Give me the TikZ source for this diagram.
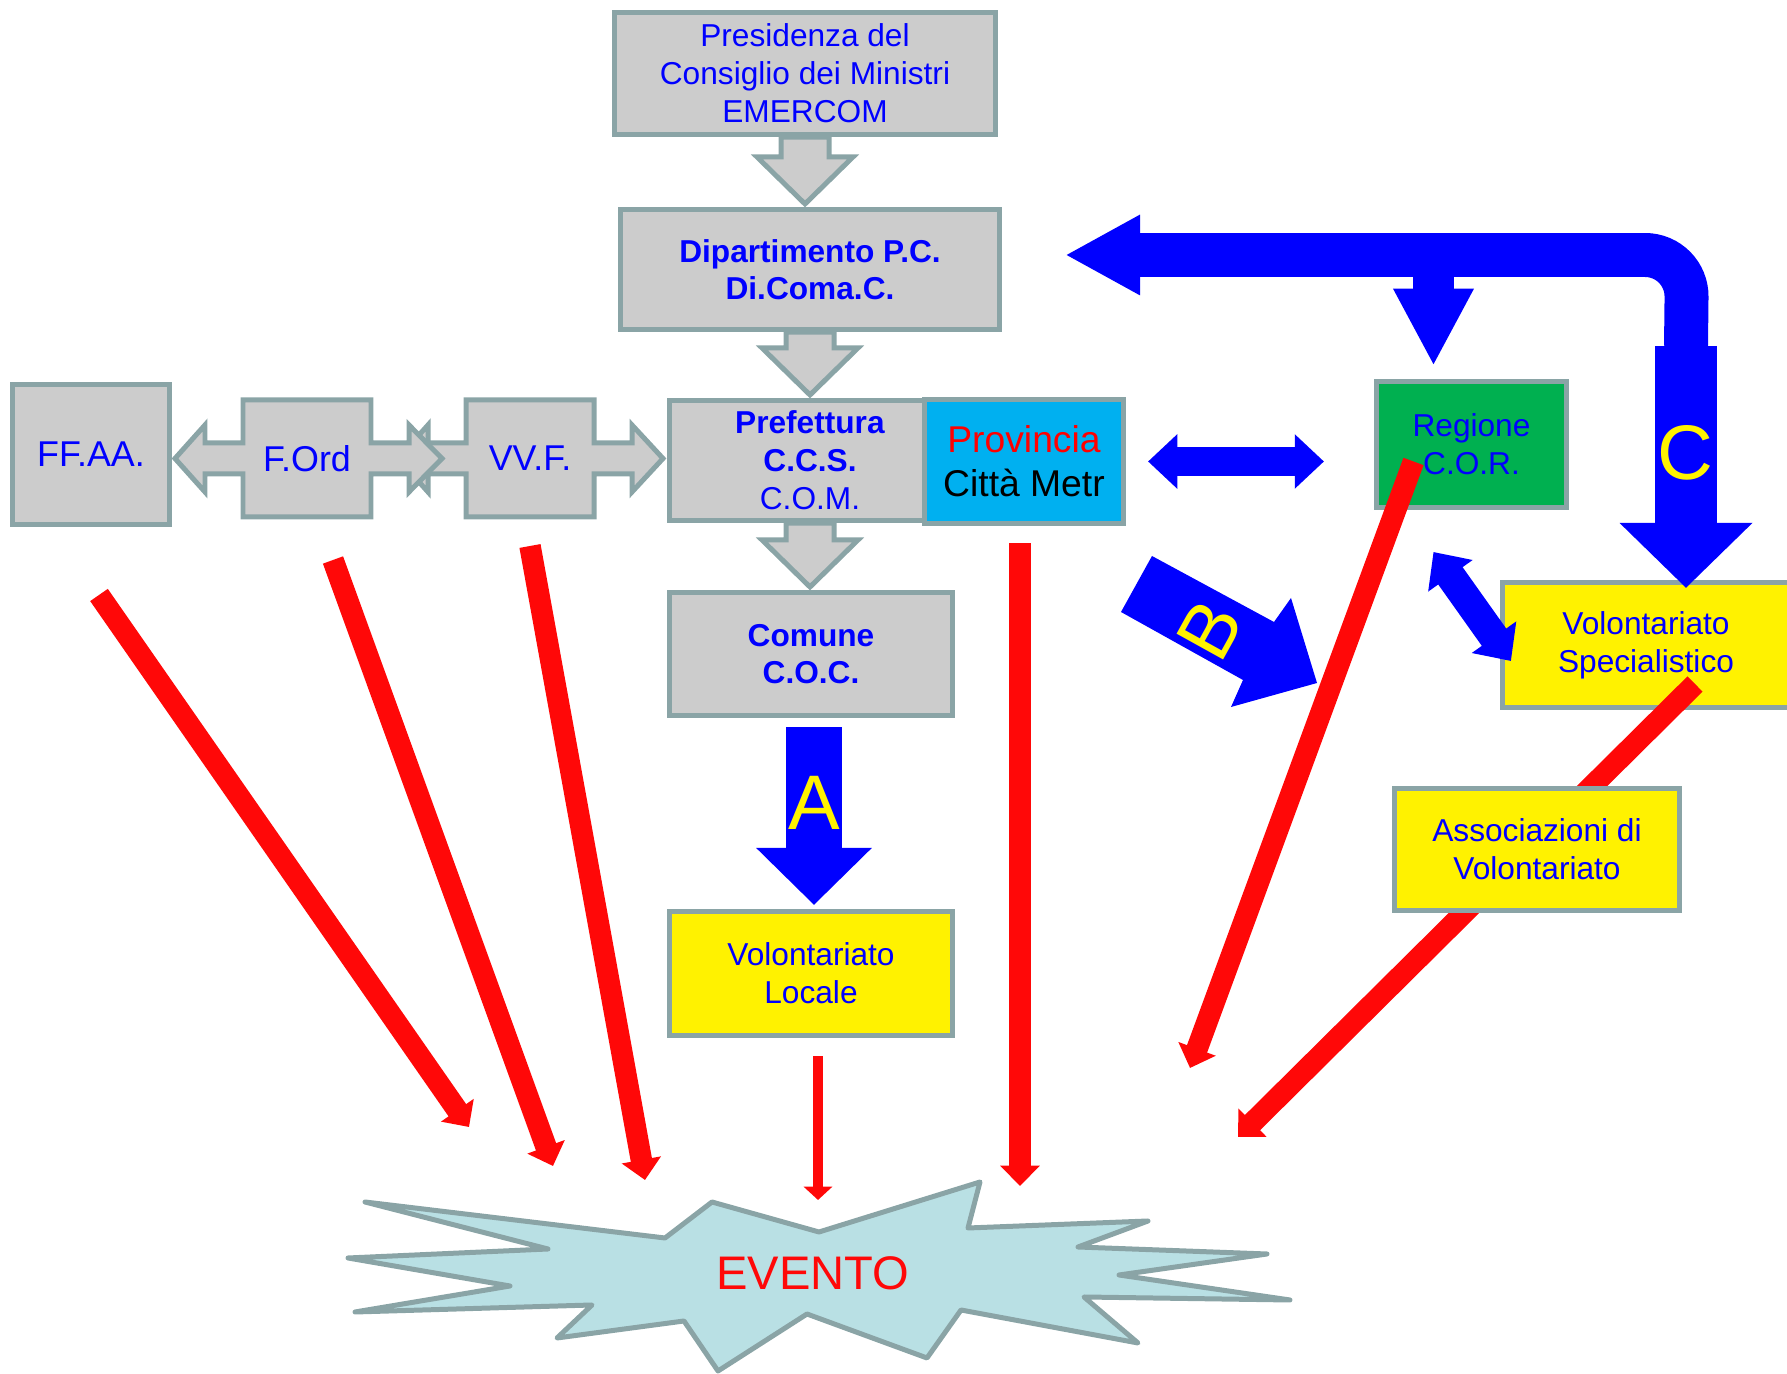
\documentclass[tikz,border=0pt]{standalone}
\usepackage{fontspec}
\setmainfont{Liberation Sans}
\usetikzlibrary{calc,arrows.meta}
\definecolor{bord}{RGB}{138,164,166}
\definecolor{boxgray}{RGB}{204,204,204}
\definecolor{provblue}{RGB}{0,176,240}
\definecolor{reggreen}{RGB}{0,176,80}
\definecolor{starfill}{RGB}{185,224,228}
\definecolor{evred}{RGB}{255,8,8}
\begin{document}
\begin{tikzpicture}[x=0.01cm,y=-0.01cm,align=center,
  box/.style={draw=bord,line width=1.42pt,fill=boxgray,text=blue,inner sep=0pt,font=\fontsize{9}{10.8}\selectfont},
  garrow/.style={draw=bord,line width=1.42pt,fill=boxgray},
  callout/.style={draw=bord,line width=1.42pt,fill=boxgray},
  biglabel/.style={text=yellow,font=\fontsize{22}{26}\selectfont},
  rarrow/.style={draw=evred,line width=6.1pt,-{Triangle[width=11pt,length=5.8pt]}},
  bdbl/.style={draw=blue,line width=8.5pt,{Triangle[width=15pt,length=8.3pt]}-{Triangle[width=15pt,length=8.3pt]}}]
\useasboundingbox (0,0) rectangle (1787,1374);

% central column
\node[box,minimum width=3.81cm,minimum height=1.22cm] (pres) at (805,73.5) {Presidenza del\\Consiglio dei Ministri\\EMERCOM};
\node[box,minimum width=3.79cm,minimum height=1.2cm,font=\fontsize{9}{10.5}\selectfont\bfseries] (dip) at (810,269.5) {Dipartimento P.C.\\Di.Coma.C.};
\node[box,minimum width=2.81cm,minimum height=1.2cm] (pref) at (810,460.5) {\textbf{Prefettura}\\\textbf{C.C.S.}\\C.O.M.};
\node[box,fill=provblue,minimum width=1.99cm,minimum height=1.24cm,font=\fontsize{10.6}{12.5}\selectfont] (prov) at (1024,461.5) {\textcolor{red}{Provincia}\\\textcolor{black}{Città Metr}};
\node[box,minimum width=2.83cm,minimum height=1.23cm,font=\fontsize{9}{10.5}\selectfont\bfseries] (com) at (811,654) {Comune\\C.O.C.};
\node[box,fill=yellow,minimum width=2.83cm,minimum height=1.24cm] (volloc) at (811,973.5) {Volontariato\\Locale};

\foreach \a/\b in {pres/dip,dip/pref,pref/com}
  \draw[garrow] ($(\a.south)+(-24,0)$) |- ($(\a.south |- \b.north)+(-48,-50)$) -- ($(\a.south |- \b.north)+(0,-3)$) -- ($(\a.south |- \b.north)+(48,-50)$) -| ($(\a.south)+(24,0)$) -- cycle;

% left row
\draw[callout] (466,400) -- (594,400) -- (594,443) -- (632,443) -- (632,425) -- (663,458.5) -- (632,492) -- (632,474) -- (594,474) -- (594,517) -- (466,517) -- (466,474) -- (428,474) -- (428,492) -- (398,458.5) -- (428,425) -- (428,443) -- (466,443) -- cycle;
\draw[callout] (243,400) -- (371,400) -- (371,443) -- (409,443) -- (409,425) -- (442,458.5) -- (409,492) -- (409,474) -- (371,474) -- (371,517) -- (243,517) -- (243,474) -- (205,474) -- (205,492) -- (175,458.5) -- (205,425) -- (205,443) -- (243,443) -- cycle;
\node[text=blue,font=\fontsize{10.2}{12}\selectfont] (vvf) at (530,458.5) {VV.F.};
\node[text=blue,font=\fontsize{10.2}{12}\selectfont] (ford) at (307,458.5) {F.Ord};
\node[box,minimum width=1.57cm,minimum height=1.4cm,font=\fontsize{10.2}{12}\selectfont] (ffaa) at (91,454.5) {FF.AA.};

% right side
\node[box,fill=reggreen,minimum width=1.9cm,minimum height=1.26cm] (reg) at (1471.5,444.5) {Regione\\C.O.R.};
\node[box,fill=yellow,minimum width=2.87cm,minimum height=1.25cm] (vspec) at (1646,645) {Volontariato\\Specialistico};

% blue arrows
\coordinate (dtip) at ($(dip.east)+(63,-14.5)$);
\coordinate (bend) at (1687,255);
\coordinate (ctop) at (1686,346);
\coordinate (ctip) at ($(vspec.north)+(40,8)$);
\coordinate (rtip) at ($(reg.north)+(-38,-13)$);
\draw[blue,line width=12.5pt,rounded corners=0.42cm,{Triangle[width=21.3pt,length=21.3pt]}-] (dtip) -- (bend) -- (ctop);
\draw[blue,line width=11.7pt,-{Triangle[width=21.3pt,length=22pt]}] (rtip |- bend) -- (rtip);
\draw[blue,line width=17.9pt,-{Triangle[width=36.7pt,length=18.5pt]}] (ctop) -- (ctip);
\node[biglabel] (lblC) at (1685,453) {C};
\draw[bdbl] ($(prov.east)+(22,0)$) -- ($(reg.west |- prov.east)+(-50,0)$);
\coordinate (rv1) at ($(reg.south)+(-38,42)$);
\coordinate (rv2) at ($(vspec.west)+(11,16)$);
\draw[bdbl] (rv1) -- (rv2);
\fill[blue] (1152,556) -- (1274,622) -- (1291,598) -- (1317,683) -- (1231,707) -- (1243,680) -- (1121,612) -- cycle;
\node[biglabel,rotate=61] (lblB) at (1210,630) {B};
\draw[blue,line width=16.2pt,-{Triangle[width=31.9pt,length=16.2pt]}] ($(com.south)+(3,9)$) -- ($(volloc.north)+(3,-4)$);
\node[biglabel] (lblA) at (814,803) {A};

% red arrows
\coordinate (r1) at (99,595);   \coordinate (e1) at (469,1127);
\coordinate (r2) at (333,560);  \coordinate (e2) at (553,1166);
\coordinate (r3) at (530,546);  \coordinate (e3) at (645,1180);
\coordinate (r4) at ($(prov.south)+(-4,17)$);    \coordinate (e4) at (1020,1186);
\coordinate (r5) at ($(reg.center)+(-58,17)$);   \coordinate (e5) at (1190,1068);
\coordinate (r6) at ($(vspec.center)+(49,39)$);  \coordinate (e6) at (1238,1137);
\coordinate (r7) at ($(volloc.south)+(7,18)$);   \coordinate (e7) at (818,1200);
\foreach \s/\e in {r1/e1,r2/e2,r3/e3,r4/e4,r5/e5,r6/e6}
  \draw[rarrow] (\s) -- (\e);
\draw[draw=evred,line width=3.1pt,-{Triangle[width=8pt,length=3.8pt]}] (r7) -- (e7);

\node[box,fill=yellow,minimum width=2.85cm,minimum height=1.22cm] (assoc) at (1537,849.5) {Associazioni di\\Volontariato};

% evento
\draw[draw=bord,line width=1.42pt,fill=starfill,line join=round] (365,1202) -- (665,1238) -- (712,1202) -- (819,1232) -- (980,1182) -- (968,1228) -- (1148,1221) -- (1078,1247) -- (1267,1254) -- (1119,1275) -- (1290,1300) -- (1084,1297) -- (1138,1343) -- (961,1310) -- (927,1358) -- (807,1314) -- (718,1371) -- (684,1321) -- (557,1338) -- (592,1305) -- (355,1312) -- (510,1286) -- (348,1258) -- (548,1249) -- cycle;
\node[text=evred,font=\fontsize{13.4}{16}\selectfont] (ev) at (813,1273) {EVENTO};
\end{tikzpicture}
\end{document}
